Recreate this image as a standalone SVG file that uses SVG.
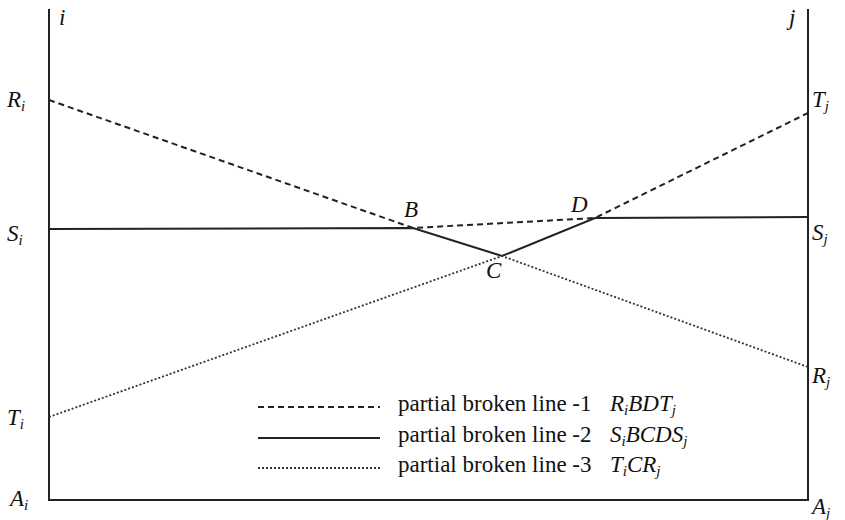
<svg xmlns="http://www.w3.org/2000/svg" width="845" height="520" viewBox="0 0 845 520">
<style>
text{font-family:"Liberation Serif","Times New Roman",serif;fill:#111}
.m{font-style:italic;font-size:23px}
.s{font-size:15px;font-style:italic}
.lg{font-size:23px}
.frame{fill:none;stroke:#222;stroke-width:2}
.dash{fill:none;stroke:#222;stroke-width:2;stroke-dasharray:6,4}
.solid{fill:none;stroke:#222;stroke-width:2}
.dot{fill:none;stroke:#333;stroke-width:1.8;stroke-dasharray:2,2}
</style>
<rect width="845" height="520" fill="#fff"/>
<g id="frame">
<polyline class="frame" points="49,9 49,500 808,500 808,9"/>
</g>
<g id="connectors">
<polyline id="line1" class="dash" points="49,100 413,228 595,218 808,113"/>
<polyline id="line2" class="solid" points="49,229 413,228 502,256 595,218 808,217"/>
<polyline id="line3" class="dot" points="49,417 502,256 808,367"/>
</g>
<g id="labels">
<text class="m" x="59" y="25">i</text>
<text class="m" x="789" y="25">j</text>
<text class="m" x="7" y="107">R<tspan class="s" dy="4">i</tspan></text>
<text class="m" x="7" y="241">S<tspan class="s" dy="4">i</tspan></text>
<text class="m" x="7" y="425">T<tspan class="s" dy="4">i</tspan></text>
<text class="m" x="10" y="506">A<tspan class="s" dy="4">i</tspan></text>
<text class="m" x="812" y="107">T<tspan class="s" dy="4">j</tspan></text>
<text class="m" x="812" y="240">S<tspan class="s" dy="4">j</tspan></text>
<text class="m" x="812" y="383">R<tspan class="s" dy="4">j</tspan></text>
<text class="m" x="812" y="514">A<tspan class="s" dy="4">j</tspan></text>
<text class="m" x="404" y="217">B</text>
<text class="m" x="571" y="212">D</text>
<text class="m" x="486" y="278">C</text>
</g>
<g id="legend">
<line class="dash" x1="258" y1="407" x2="380" y2="407"/>
<line class="solid" x1="258" y1="438" x2="380" y2="438"/>
<line class="dot" x1="258" y1="468" x2="380" y2="468"/>
<text class="lg" x="398" y="411">partial broken line -1</text>
<text class="m" x="610" y="411">R<tspan class="s" dy="4">i</tspan><tspan dy="-4">BDT</tspan><tspan class="s" dy="4">j</tspan></text>
<text class="lg" x="398" y="442">partial broken line -2</text>
<text class="m" x="610" y="442">S<tspan class="s" dy="4">i</tspan><tspan dy="-4">BCDS</tspan><tspan class="s" dy="4">j</tspan></text>
<text class="lg" x="398" y="472">partial broken line -3</text>
<text class="m" x="610" y="472">T<tspan class="s" dy="4">i</tspan><tspan dy="-4">CR</tspan><tspan class="s" dy="4">j</tspan></text>
</g>
</svg>
